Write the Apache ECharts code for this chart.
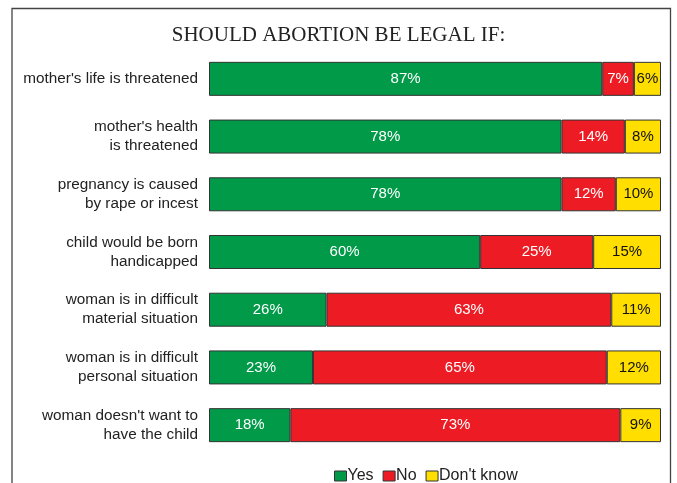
<!DOCTYPE html>
<html><head><meta charset="utf-8">
<script src="https://cdn.jsdelivr.net/npm/echarts@6/dist/echarts.min.js"></script>
<style>html,body{margin:0;padding:0;background:#fff}#c{width:677px;height:483px}</style>
</head><body><div id="c"></div>
<script>
const categories = ["mother's life is threatened","mother's health\nis threatened","pregnancy is caused\nby rape or incest","child would be born\nhandicapped","woman is in difficult\nmaterial situation","woman is in difficult\npersonal situation","woman doesn't want to\nhave the child"];
const yes = [87,78,78,60,26,23,18];
const no = [7,14,12,25,63,65,73];
const dontKnow = [6,8,10,15,11,12,9];
const seriesNames = ['Yes','No',"Don't know"];
const colors = ['#009A49','#ED1C24','#FFDE00'];
const labelColors = ['#fff','#fff','#111'];
const chart = echarts.init(document.getElementById('c'));
const datas = [yes,no,dontKnow];
chart.setOption({
  animation:false,
  title:{text:'SHOULD ABORTION BE LEGAL IF:',left:'center',top:20,textStyle:{fontFamily:'Liberation Serif',fontWeight:'normal',fontSize:21,color:'#222'}},
  legend:{top:463,left:329,icon:'rect',itemWidth:12,itemHeight:10,itemGap:9,
    textStyle:{fontFamily:'Liberation Sans',fontSize:16,color:'#222',padding:[0,0,0,-4]},
    itemStyle:{borderColor:'#333',borderWidth:1},
    data:seriesNames},
  grid:{left:209,right:16,top:50,bottom:29},
  xAxis:{type:'value',min:0,max:100,show:false},
  yAxis:{type:'category',data:categories,inverse:true,axisLine:{show:false},axisTick:{show:false},
    axisLabel:{fontFamily:'Liberation Sans',fontSize:15.3,color:'#222',lineHeight:19,margin:11,align:'right'}},
  graphic:[{type:'polyline',shape:{points:[[12,483],[12,8.5],[670.5,8.5],[670.5,483]]},style:{stroke:'#444',lineWidth:1.3,fill:null}}],
  series:datas.map((d,i)=>({
    name:seriesNames[i],type:'bar',stack:'s',data:d,barWidth:34,
    itemStyle:{color:colors[i],borderColor:'#333',borderWidth:1},
    label:{show:true,position:'inside',formatter:'{c}%',color:labelColors[i],fontFamily:'Liberation Sans',fontSize:15}
  }))
});
</script></body></html>
